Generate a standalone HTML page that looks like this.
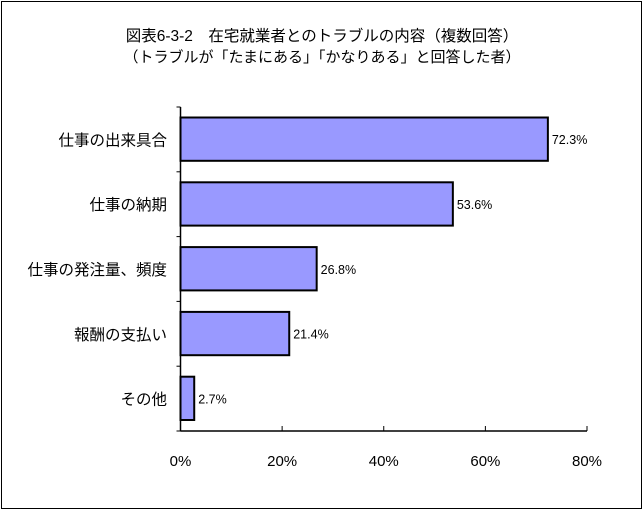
<!DOCTYPE html>
<html><head><meta charset="utf-8"><style>
html,body{margin:0;padding:0;background:#fff}
svg text{font-family:"Liberation Sans","Noto Sans CJK JP",sans-serif;fill:#000}
</style></head><body>
<svg width="644" height="511" xmlns="http://www.w3.org/2000/svg">
<rect x="1.5" y="1.5" width="640" height="507" fill="#fff" stroke="#000" stroke-width="1"/>
<text x="322" y="41" font-size="15.5" text-anchor="middle">図表6-3-2　在宅就業者とのトラブルの内容（複数回答）</text>
<text x="322" y="62" font-size="15" text-anchor="middle">（トラブルが「たまにある」「かなりある」と回答した者）</text>
<g id="plot"></g>
</svg>
<script>
const categories=["仕事の出来具合","仕事の納期","仕事の発注量、頻度","報酬の支払い","その他"];
const values=[72.3,53.6,26.8,21.4,2.7];
const valueLabels=["72.3%","53.6%","26.8%","21.4%","2.7%"];
const xTicks=[0,20,40,60,80];
const xTickLabels=["0%","20%","40%","60%","80%"];
const NS="http://www.w3.org/2000/svg";
const g=document.getElementById('plot');
const X0=180.5,X1=587,Y0=107,Y1=431;
const band=(Y1-Y0)/categories.length;
const xs=v=>X0+(v-0)/(80-0)*(X1-X0);
function mk(t,a){const e=document.createElementNS(NS,t);for(const k in a)e.setAttribute(k,a[k]);g.appendChild(e);return e;}
categories.forEach((c,i)=>{
  const top=Y0+i*band+10.5, h=band-21.5;
  const r=mk('rect',{x:X0,y:top,width:xs(values[i])-X0,height:h,fill:'#9999ff',stroke:'#000','stroke-width':2});
  
  
  const vl=mk('text',{x:xs(values[i])+4,y:top+h/2+5,'font-size':12.5});
  vl.textContent=valueLabels[i];
  
  
  const cl=mk('text',{x:167,y:Y0+i*band+band/2+6,'font-size':15.5,'text-anchor':'end'});
  cl.textContent=c;
  
  
});
for(let i=0;i<=categories.length;i++){
  const y=Y0+i*band;
  const t=mk('line',{x1:X0-4,x2:X0,y1:y,y2:y,stroke:'#000','stroke-width':1});
  
  
}
const ya=mk('line',{x1:X0,x2:X0,y1:Y0,y2:Y1,stroke:'#000','stroke-width':1.5});


const xa=mk('line',{x1:X0,x2:X1,y1:Y1,y2:Y1,stroke:'#000','stroke-width':1.5});


xTicks.forEach((v,i)=>{
  const x=xs(v);
  const t=mk('line',{x1:x,x2:x,y1:Y1-5,y2:Y1,stroke:'#000','stroke-width':1});
  
  
  const l=mk('text',{x:x,y:466,'font-size':15,'text-anchor':'middle'});
  l.textContent=xTickLabels[i];
  
  
});
</script>
</body></html>
